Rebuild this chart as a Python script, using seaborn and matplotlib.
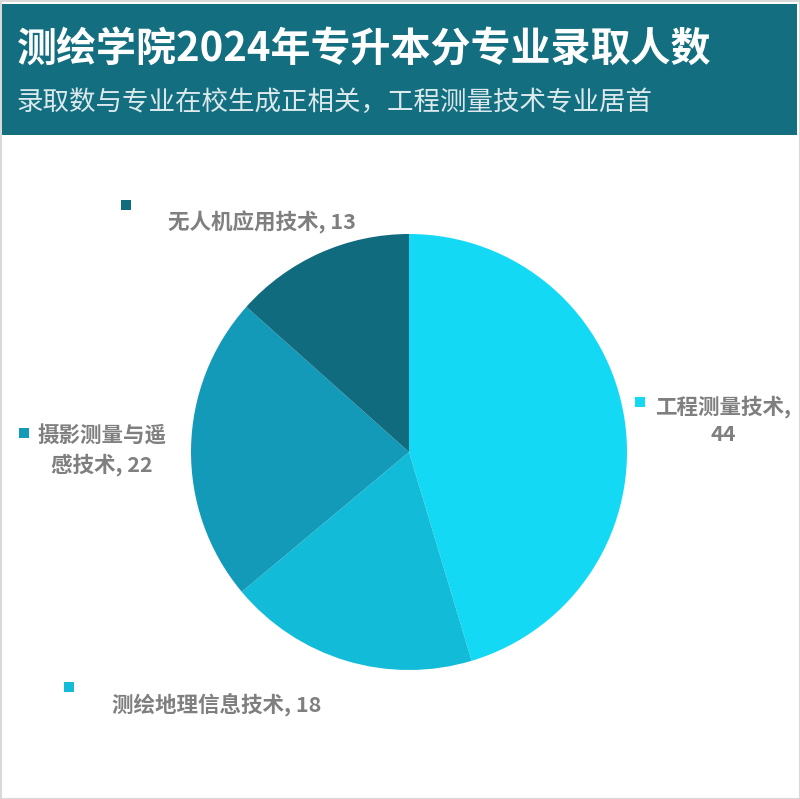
import matplotlib
matplotlib.use("Agg")
import matplotlib.pyplot as plt
import matplotlib.patches as mpatches
import seaborn as sns

# ── DATA ────────────────────────────────────────────────────
majors = ["工程测量技术", "测绘地理信息技术", "摄影测量与遥感技术", "无人机应用技术"]
counts = [44, 18, 22, 13]
label_texts = ["工程测量技术,\n44", "测绘地理信息技术, 18", "摄影测量与遥\n感技术, 22", "无人机应用技术, 13"]

TITLE = "测绘学院2024年专升本分专业录取人数"
SUBTITLE = "录取数与专业在校生成正相关，工程测量技术专业居首"

# ── STYLE ───────────────────────────────────────────────────
sns.set_theme(style="white")
plt.rcParams['font.family'] = ['Noto Sans CJK SC', 'DejaVu Sans']
colors = sns.color_palette(["#14d9f5", "#12bcd9", "#139ab9", "#116b7e"])
HEADER = "#136f80"
LABEL_GREY = "#7f7f7f"

W, H = 800, 799
fig = plt.figure(figsize=(W / 100, H / 100), dpi=100)
fig.patch.set_facecolor("white")

# outer border + header band
fig.patches.append(mpatches.Rectangle((0.5 / W, 0.5 / H), 1 - 1 / W, 1 - 1 / H, transform=fig.transFigure,
                                      fill=False, edgecolor="#d9d9d9", linewidth=1.5))
fig.patches.append(mpatches.Rectangle((2 / W, 1 - 135 / H), 795 / W, 131 / H, transform=fig.transFigure,
                                      facecolor=HEADER, edgecolor="none"))

fig.text(17 / W, 1 - 50 / H, TITLE, color="white", fontsize=28.8, fontweight="bold", va="center", ha="left")
fig.text(16 / W, 1 - 102 / H, SUBTITLE, color="#dce9ec", fontsize=19.1, va="center", ha="left")

# ── PIE ─────────────────────────────────────────────────────
cx, cy, r = 409, 452, 218
ax = fig.add_axes([(cx - r) / W, (H - cy - r) / H, 2 * r / W, 2 * r / H])
ax.pie(counts, colors=colors, startangle=90, counterclock=False,
       wedgeprops=dict(linewidth=0))
ax.set_xlim(-1, 1)
ax.set_ylim(-1, 1)
ax.axis("off")

# ── LABELS (marker square + text) ───────────────────────────
# (marker x, marker y, text x, text y, alignment) in pixels
label_pos = [
    (640, 402, 723, 420, "center"),
    (69, 687, 112, 705, "left"),
    (24, 433, 102, 451, "center"),
    (126, 205, 168, 222, "left"),
]
for (mx, my, tx, ty, ha), txt, col in zip(label_pos, label_texts, colors):
    fig.patches.append(mpatches.Rectangle(((mx - 5) / W, 1 - (my + 5) / H), 10 / W, 10 / H,
                                          transform=fig.transFigure, facecolor=col, edgecolor="none"))
    fig.text(tx / W, 1 - ty / H, txt, color=LABEL_GREY, fontsize=15.5, fontweight="bold",
             ha=ha, va="center", multialignment="center", linespacing=1.35)

fig.savefig("out.png", dpi=100)
